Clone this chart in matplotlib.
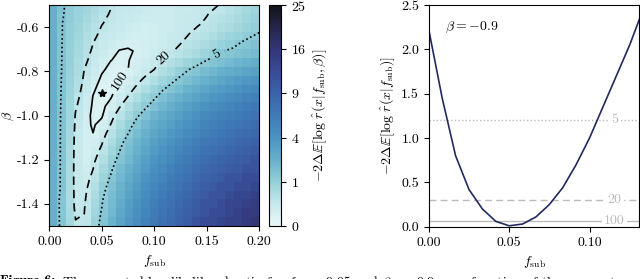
import warnings
warnings.filterwarnings('ignore')
import numpy as np
import matplotlib
matplotlib.use("Agg")
import matplotlib.pyplot as plt
from matplotlib.colors import LinearSegmentedColormap, PowerNorm

plt.rcParams['font.family'] = 'serif'
plt.rcParams['font.serif'] = ['cmr10']
plt.rcParams['mathtext.fontset'] = 'cm'
plt.rcParams['axes.unicode_minus'] = False
plt.rcParams['axes.formatter.use_mathtext'] = True

# ---- data ----
f_sub = np.linspace(0, 0.2, 25)
beta = np.linspace(-1.5, -0.5, 25)
# -2 Delta E[log r] ; rows = beta (from -1.5 up to -0.5), columns = f_sub (0 .. 0.2)
delta_e = [
 [2.22, 1.3, 0.68, 0.32, 0.34, 0.82, 1.4, 2.1, 2.9, 3.7, 4.5, 5.5, 6.5, 7.2, 8, 8.8, 9.7, 11, 12, 12, 13, 14, 14, 15, 16],
 [2.22, 1.3, 0.63, 0.29, 0.31, 0.74, 1.3, 1.9, 2.7, 3.5, 4.3, 5.2, 6.2, 6.9, 7.7, 8.5, 9.3, 10, 11, 12, 12, 13, 14, 15, 15],
 [2.22, 1.3, 0.59, 0.25, 0.28, 0.66, 1.2, 1.8, 2.5, 3.3, 4.1, 4.9, 5.9, 6.6, 7.3, 8.1, 8.9, 9.8, 11, 11, 12, 13, 13, 14, 15],
 [2.22, 1.3, 0.58, 0.24, 0.25, 0.57, 1.1, 1.7, 2.3, 3, 3.8, 4.6, 5.5, 6.2, 6.9, 7.7, 8.4, 9.3, 10, 11, 11, 12, 13, 13, 14],
 [2.22, 1.4, 0.59, 0.23, 0.22, 0.48, 0.96, 1.5, 2.1, 2.8, 3.5, 4.3, 5.1, 5.8, 6.4, 7.1, 7.9, 8.7, 9.5, 10, 11, 11, 12, 12, 13],
 [2.22, 1.4, 0.6, 0.22, 0.18, 0.39, 0.82, 1.3, 1.9, 2.5, 3.2, 3.9, 4.7, 5.3, 6, 6.6, 7.3, 8.1, 8.9, 9.4, 10, 11, 11, 12, 12],
 [2.22, 1.4, 0.61, 0.22, 0.13, 0.31, 0.66, 1.1, 1.7, 2.2, 2.8, 3.5, 4.3, 4.9, 5.5, 6.1, 6.8, 7.5, 8.2, 8.7, 9.3, 9.8, 10, 11, 11],
 [2.22, 1.4, 0.62, 0.22, 0.092, 0.24, 0.52, 0.95, 1.4, 1.9, 2.5, 3.2, 3.9, 4.4, 5, 5.6, 6.2, 6.9, 7.6, 8.1, 8.6, 9.1, 9.6, 10, 11],
 [2.22, 1.4, 0.64, 0.22, 0.083, 0.16, 0.39, 0.76, 1.2, 1.7, 2.2, 2.8, 3.5, 4, 4.5, 5.1, 5.7, 6.3, 7, 7.4, 7.9, 8.4, 8.9, 9.4, 9.9],
 [2.22, 1.4, 0.65, 0.23, 0.082, 0.099, 0.28, 0.58, 1, 1.5, 2, 2.5, 3.2, 3.6, 4.1, 4.6, 5.2, 5.8, 6.4, 6.8, 7.2, 7.7, 8.2, 8.6, 9.1],
 [2.22, 1.4, 0.67, 0.24, 0.087, 0.062, 0.18, 0.43, 0.8, 1.2, 1.7, 2.2, 2.8, 3.2, 3.7, 4.2, 4.7, 5.2, 5.8, 6.2, 6.6, 7, 7.5, 7.9, 8.4],
 [2.22, 1.4, 0.69, 0.26, 0.1, 0.046, 0.1, 0.3, 0.6, 0.97, 1.4, 1.9, 2.4, 2.8, 3.2, 3.7, 4.2, 4.7, 5.3, 5.7, 6, 6.4, 6.8, 7.3, 7.7],
 [2.22, 1.4, 0.71, 0.28, 0.12, 0.033, 0.044, 0.19, 0.43, 0.73, 1.1, 1.5, 2, 2.4, 2.8, 3.2, 3.7, 4.2, 4.8, 5.1, 5.5, 5.8, 6.2, 6.6, 7],
 [2.22, 1.4, 0.75, 0.33, 0.15, 0.043, 0.027, 0.11, 0.27, 0.5, 0.8, 1.1, 1.5, 1.9, 2.3, 2.7, 3.2, 3.6, 4.1, 4.5, 4.8, 5.2, 5.6, 6, 6.4],
 [2.22, 1.4, 0.79, 0.39, 0.18, 0.055, 0.014, 0.047, 0.15, 0.31, 0.53, 0.82, 1.1, 1.5, 1.9, 2.2, 2.6, 3, 3.4, 3.8, 4.2, 4.6, 4.9, 5.3, 5.7],
 [2.22, 1.4, 0.83, 0.45, 0.22, 0.081, 0.02, 0.03, 0.083, 0.19, 0.34, 0.55, 0.79, 1.1, 1.4, 1.7, 2.1, 2.4, 2.8, 3.2, 3.5, 3.8, 4.2, 4.5, 4.9],
 [2.22, 1.4, 0.87, 0.51, 0.26, 0.12, 0.043, 0.029, 0.047, 0.11, 0.21, 0.34, 0.5, 0.74, 1, 1.3, 1.6, 1.9, 2.2, 2.5, 2.8, 3.1, 3.4, 3.7, 4],
 [2.22, 1.4, 0.91, 0.57, 0.3, 0.17, 0.076, 0.034, 0.028, 0.059, 0.12, 0.2, 0.3, 0.47, 0.67, 0.92, 1.2, 1.4, 1.7, 1.9, 2.2, 2.4, 2.6, 2.9, 3.1],
 [2.22, 1.4, 0.93, 0.61, 0.36, 0.21, 0.12, 0.063, 0.041, 0.055, 0.089, 0.15, 0.22, 0.33, 0.46, 0.61, 0.8, 0.98, 1.2, 1.4, 1.6, 1.8, 2, 2.2, 2.4],
 [2.22, 1.4, 0.95, 0.66, 0.42, 0.26, 0.17, 0.1, 0.056, 0.052, 0.066, 0.1, 0.15, 0.21, 0.28, 0.37, 0.49, 0.63, 0.79, 0.97, 1.2, 1.3, 1.5, 1.6, 1.8],
 [2.22, 1.4, 0.97, 0.7, 0.48, 0.31, 0.21, 0.15, 0.095, 0.078, 0.077, 0.096, 0.13, 0.18, 0.22, 0.28, 0.37, 0.46, 0.58, 0.72, 0.88, 1, 1.2, 1.3, 1.5],
 [2.22, 1.4, 1, 0.75, 0.54, 0.37, 0.26, 0.2, 0.15, 0.12, 0.1, 0.095, 0.12, 0.16, 0.19, 0.24, 0.29, 0.35, 0.43, 0.54, 0.66, 0.78, 0.91, 1.1, 1.2],
 [2.22, 1.4, 1, 0.8, 0.6, 0.44, 0.31, 0.25, 0.2, 0.16, 0.13, 0.11, 0.12, 0.15, 0.17, 0.21, 0.24, 0.28, 0.33, 0.41, 0.5, 0.61, 0.73, 0.86, 1],
 [2.22, 1.4, 1.1, 0.85, 0.66, 0.5, 0.37, 0.28, 0.24, 0.2, 0.17, 0.14, 0.14, 0.15, 0.17, 0.2, 0.22, 0.25, 0.29, 0.35, 0.42, 0.52, 0.64, 0.76, 0.9],
 [2.22, 1.5, 1.1, 0.9, 0.73, 0.57, 0.44, 0.32, 0.27, 0.24, 0.21, 0.18, 0.15, 0.15, 0.17, 0.19, 0.21, 0.23, 0.26, 0.28, 0.34, 0.44, 0.55, 0.67, 0.8],
]
contour_levels = [0.06, 0.3, 1.2]
contour_labels = ['100', '20', '5']
true_point = (0.05, -0.9)
cbar_ticks = [0, 1, 4, 9, 16, 25]

curve_f = [0, 0.00833, 0.01667, 0.025, 0.03333, 0.04167, 0.05, 0.05833, 0.06667, 0.075,
           0.08333, 0.09167, 0.1, 0.10833, 0.11667, 0.125, 0.13333]
curve_v = [2.22, 1.45, 0.8, 0.42, 0.2, 0.06, 0.01, 0.03, 0.11, 0.25, 0.44, 0.7, 1.0, 1.35, 1.7, 2.05, 2.45]

V = np.array(delta_e)
cmap = LinearSegmentedColormap.from_list('c', [(0, '#e8f7f9'), (0.1, '#c5e9ec'), (0.2, '#93cfd8'), (0.3, '#66b0cc'),
                                               (0.4, '#4a94c2'), (0.5, '#3f7bb7'), (0.6, '#3b63a9'), (0.7, '#384b95'),
                                               (0.8, '#333778'), (0.9, '#25264c'), (1.0, '#121218')])

fig = plt.figure(figsize=(6.4, 2.79), dpi=100)
ax = fig.add_axes([0.077, 0.190, 0.328, 0.792])
cax = fig.add_axes([0.42, 0.190, 0.01875, 0.792])
ax2 = fig.add_axes([0.670, 0.1875, 0.329, 0.7946])

im = ax.imshow(V, origin='lower', extent=[0, 0.2, -1.5, -0.5], aspect='auto', cmap=cmap,
               norm=PowerNorm(0.5, vmin=0, vmax=25), interpolation='nearest')
cs = ax.contour(f_sub, beta, V, levels=contour_levels, colors='k', linewidths=1.2,
                linestyles=['solid', (0, (5, 3)), (0, (1, 1.6))])
ax.clabel(cs, fmt=dict(zip(contour_levels, contour_labels)), fontsize=10,
          manual=[(0.067, -0.84), (0.110, -0.749), (0.161, -0.734)], inline=True)
ax.plot([true_point[0]], [true_point[1]], marker='*', color='k', ms=6, ls='none')
ax.set_xlim(0, 0.2); ax.set_ylim(-1.5, -0.5)
ax.set_xticks([0, 0.05, 0.1, 0.15, 0.2]); ax.set_xticklabels(['0.00', '0.05', '0.10', '0.15', '0.20'])
ax.set_yticks([-1.4, -1.2, -1.0, -0.8, -0.6]); ax.set_yticklabels(['-1.4', '-1.2', '-1.0', '-0.8', '-0.6'])
ax.set_xlabel(r'$f_{\rm sub}$', fontsize=10)
ax.set_ylabel(r'$\beta$', fontsize=10)
ax.yaxis.set_label_coords(-0.16, 0.5)
cb = fig.colorbar(im, cax=cax)
cb.set_ticks(cbar_ticks)
cb.set_label(r'$-2\Delta\mathbb{E}[\log\,\hat{r}(x|f_{\rm sub},\beta)]$', fontsize=10)
cax.yaxis.set_label_coords(3.44, 0.5)

ax2.plot(curve_f, curve_v, color='#23295e', lw=1.2)
gray = '#bbbbbb'
for y, ls, lab in zip(contour_levels[::-1], [(0, (1, 1.6)), (0, (5, 3)), 'solid'], contour_labels[::-1]):
    ax2.axhline(y, color=gray, lw=1.0, ls=ls, zorder=1)
    ax2.text(0.1155, y, lab, color=gray, fontsize=10, ha='center', va='center',
             bbox=dict(fc='white', ec='none', pad=1.5), zorder=2)
ax2.text(0.075, 0.935, r'$\beta = -0.9$', transform=ax2.transAxes, fontsize=10, va='top')
ax2.set_xlim(0, 0.131); ax2.set_ylim(0, 2.5)
ax2.set_xticks([0, 0.05, 0.1]); ax2.set_xticklabels(['0.00', '0.05', '0.10'])
ax2.set_yticks([0, 0.5, 1, 1.5, 2, 2.5]); ax2.set_yticklabels(['0.0', '0.5', '1.0', '1.5', '2.0', '2.5'])
ax2.set_xlabel(r'$f_{\rm sub}$', fontsize=10)
ax2.set_ylabel(r'$-2\Delta\mathbb{E}[\log\,\hat{r}(x|f_{\rm sub})]$', fontsize=10)
ax2.yaxis.set_label_coords(-0.15, 0.5)
for a in (ax, ax2, cax):
    a.tick_params(labelsize=10, direction='out', length=3.5)

fig.text(0.0, 0.016, 'Figure 6:', fontsize=10, fontweight='bold', va='top', family='cmb10')
fig.text(0.097, 0.016, r'The expected log likelihood ratio for $f_{\rm sub}=0.05$ and $\beta=-0.9$, as a function of the parameters, is the',
         fontsize=10, va='top')

fig.savefig('out.png', dpi=100)
